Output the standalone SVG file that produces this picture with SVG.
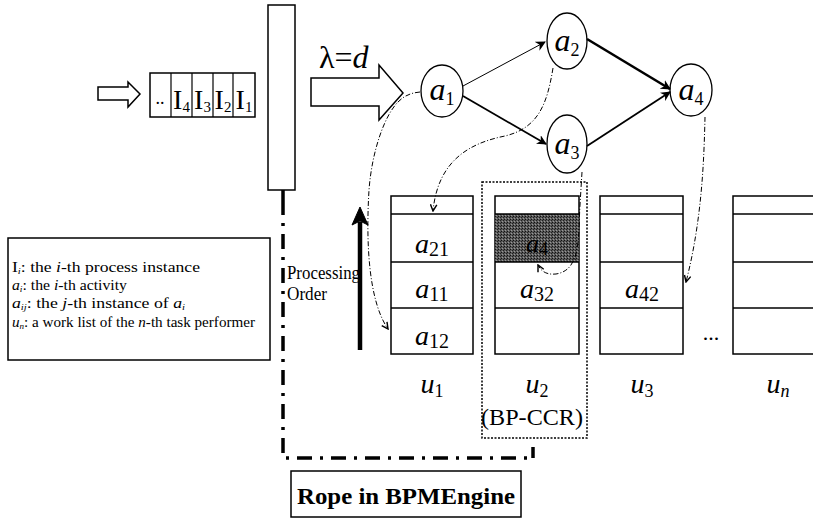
<svg xmlns="http://www.w3.org/2000/svg" width="813" height="520" viewBox="0 0 813 520" font-family="'Liberation Serif','DejaVu Serif','Times New Roman',serif">
<style>
text{font-family:"Liberation Serif","DejaVu Serif","Times New Roman",serif;fill:#000}
.it{font-style:italic}
.box{fill:#fff;stroke:#000;stroke-width:1.5}
.node{fill:#fff;stroke:#000;stroke-width:1.3}
.dd{fill:none;stroke:#000;stroke-width:1;stroke-dasharray:5 2 1 2}
</style>
<defs>
<marker id="ah" viewBox="0 0 10 10" refX="9" refY="5" markerWidth="10" markerHeight="10" markerUnits="userSpaceOnUse" orient="auto">
<path d="M0,0 L10,5 L0,10 L3,5 Z" fill="#000"/>
</marker>
<marker id="ahs" viewBox="0 0 10 10" refX="9" refY="5" markerWidth="8" markerHeight="8" markerUnits="userSpaceOnUse" orient="auto">
<path d="M1,1 L9,5 L1,9" fill="none" stroke="#000" stroke-width="1.8"/>
</marker>
<pattern id="shade" width="3" height="3" patternUnits="userSpaceOnUse">
<rect width="3" height="3" fill="#5a5a5a"/>
<rect width="1" height="1" fill="#111"/>
<rect x="2" y="1" width="1" height="1" fill="#222"/>
<rect x="1" y="2" width="1" height="1" fill="#999"/>
</pattern>
</defs>

<g id="input-arrow">
<path d="M98,87 L128,87 L128,82 L140,94 L128,107 L128,100 L98,100 Z" fill="#fff" stroke="#000" stroke-width="1.5"/>
</g>

<g id="queue">
<rect class="box" x="150" y="73" width="105" height="44"/>
<line x1="171" y1="73" x2="171" y2="117" stroke="#000" stroke-width="1.2"/>
<line x1="192" y1="73" x2="192" y2="117" stroke="#000" stroke-width="1.2"/>
<line x1="213" y1="73" x2="213" y2="117" stroke="#000" stroke-width="1.2"/>
<line x1="233" y1="73" x2="233" y2="117" stroke="#000" stroke-width="1.2"/>
<text x="160" y="104" font-size="18" text-anchor="middle">..</text>
<text x="181.5" y="109" font-size="28" text-anchor="middle">I<tspan font-size="15" dy="3">4</tspan></text>
<text x="202.5" y="109" font-size="28" text-anchor="middle">I<tspan font-size="15" dy="3">3</tspan></text>
<text x="223" y="109" font-size="28" text-anchor="middle">I<tspan font-size="15" dy="3">2</tspan></text>
<text x="244" y="109" font-size="28" text-anchor="middle">I<tspan font-size="15" dy="3">1</tspan></text>
</g>

<g id="gate">
<rect class="box" x="268" y="5" width="27" height="185"/>
</g>

<g id="rope-line">
<line x1="283" y1="190" x2="283" y2="200" stroke="#000" stroke-width="3.5"/>
<path d="M283,200 L283,458 L533,458" fill="none" stroke="#000" stroke-width="3.5" stroke-dasharray="15 8 3 8"/>
<line x1="533" y1="447" x2="533" y2="458" stroke="#000" stroke-width="3.5"/>
</g>

<g id="release-arrow">
<path d="M311,78 L379,78 L379,65 L403,93 L379,120 L379,106 L311,106 Z" fill="#fff" stroke="#000" stroke-width="1.5"/>
<text x="319" y="68" font-size="32">λ=<tspan class="it">d</tspan></text>
</g>

<g id="node-a1">
<ellipse class="node" cx="442" cy="91" rx="21" ry="26"/>
<text x="442" y="100" font-size="32" text-anchor="middle"><tspan class="it">a</tspan><tspan font-size="18" dy="5">1</tspan></text>
</g>
<g id="node-a2">
<ellipse class="node" cx="567" cy="41" rx="20" ry="28"/>
<text x="567" y="51" font-size="32" text-anchor="middle"><tspan class="it">a</tspan><tspan font-size="18" dy="5">2</tspan></text>
</g>
<g id="node-a3">
<ellipse class="node" cx="567" cy="144" rx="20" ry="29"/>
<text x="567" y="154" font-size="32" text-anchor="middle"><tspan class="it">a</tspan><tspan font-size="18" dy="5">3</tspan></text>
</g>
<g id="node-a4">
<ellipse class="node" cx="691" cy="90" rx="21" ry="26"/>
<text x="691" y="100" font-size="32" text-anchor="middle"><tspan class="it">a</tspan><tspan font-size="18" dy="5">4</tspan></text>
</g>

<g id="worklist-u1">
<rect class="box" x="391" y="196" width="82" height="158"/>
<line x1="391" y1="214" x2="473" y2="214" stroke="#000" stroke-width="1.5"/>
<line x1="391" y1="262" x2="473" y2="262" stroke="#000" stroke-width="1.5"/>
<line x1="391" y1="308" x2="473" y2="308" stroke="#000" stroke-width="1.5"/>
<text x="432" y="253" font-size="28" text-anchor="middle"><tspan class="it">a</tspan><tspan font-size="20" dy="3">21</tspan></text>
<text x="432" y="298" font-size="28" text-anchor="middle"><tspan class="it">a</tspan><tspan font-size="20" dy="3">11</tspan></text>
<text x="432" y="345" font-size="28" text-anchor="middle"><tspan class="it">a</tspan><tspan font-size="20" dy="3">12</tspan></text>
<text x="432" y="393" font-size="28" text-anchor="middle"><tspan class="it">u</tspan><tspan font-size="18" dy="4">1</tspan></text>
</g>

<g id="worklist-u2">
<rect class="box" x="495" y="196" width="84" height="158"/>
<rect x="495" y="214" width="84" height="48" fill="url(#shade)"/>
<line x1="495" y1="214" x2="579" y2="214" stroke="#000" stroke-width="1.5"/>
<line x1="495" y1="262" x2="579" y2="262" stroke="#000" stroke-width="1.5"/>
<line x1="495" y1="308" x2="579" y2="308" stroke="#000" stroke-width="1.5"/>
<text x="537" y="252" font-size="26" text-anchor="middle" style="fill:#000"><tspan class="it">a</tspan><tspan font-size="18" dy="3">4</tspan></text>
<text x="537" y="298" font-size="28" text-anchor="middle"><tspan class="it">a</tspan><tspan font-size="20" dy="3">32</tspan></text>
<text x="537" y="393" font-size="28" text-anchor="middle"><tspan class="it">u</tspan><tspan font-size="18" dy="4">2</tspan></text>
<text x="532" y="425" font-size="24" text-anchor="middle" textLength="102" lengthAdjust="spacingAndGlyphs">(BP-CCR)</text>
<rect x="482" y="182" width="105" height="256" fill="none" stroke="#000" stroke-width="1.5" stroke-dasharray="2 1.5"/>
</g>

<g id="worklist-u3">
<rect class="box" x="600" y="196" width="83" height="158"/>
<line x1="600" y1="214" x2="683" y2="214" stroke="#000" stroke-width="1.5"/>
<line x1="600" y1="262" x2="683" y2="262" stroke="#000" stroke-width="1.5"/>
<line x1="600" y1="308" x2="683" y2="308" stroke="#000" stroke-width="1.5"/>
<text x="642" y="298" font-size="28" text-anchor="middle"><tspan class="it">a</tspan><tspan font-size="20" dy="3">42</tspan></text>
<text x="642" y="393" font-size="28" text-anchor="middle"><tspan class="it">u</tspan><tspan font-size="18" dy="4">3</tspan></text>
</g>

<g id="ellipsis">
<text x="711" y="340" font-size="22" text-anchor="middle">...</text>
</g>

<g id="worklist-un">
<rect class="box" x="733" y="196" width="100" height="158"/>
<line x1="733" y1="214" x2="813" y2="214" stroke="#000" stroke-width="1.5"/>
<line x1="733" y1="262" x2="813" y2="262" stroke="#000" stroke-width="1.5"/>
<line x1="733" y1="308" x2="813" y2="308" stroke="#000" stroke-width="1.5"/>
<text x="778" y="393" font-size="28" text-anchor="middle"><tspan class="it">u</tspan><tspan class="it" font-size="18" dy="4">n</tspan></text>
</g>

<g id="processing-order">
<text x="287" y="279" font-size="18" textLength="73" lengthAdjust="spacingAndGlyphs">Processing</text>
<text x="287" y="300" font-size="18" textLength="40" lengthAdjust="spacingAndGlyphs">Order</text>
<line x1="360" y1="350" x2="360" y2="222" stroke="#000" stroke-width="4.5"/>
<path d="M352,225 L360,207 L368,225 L360,221 Z" fill="#000" stroke="#000" stroke-width="1"/>
</g>

<g id="legend">
<rect class="box" x="8" y="238" width="262" height="122"/>
<text x="12" y="272" font-size="15" textLength="188" lengthAdjust="spacingAndGlyphs">I<tspan class="it" font-size="9" dy="2">i</tspan><tspan dy="-2">: the </tspan><tspan class="it">i</tspan>-th process instance</text>
<text x="12" y="290" font-size="15" textLength="115" lengthAdjust="spacingAndGlyphs"><tspan class="it">a</tspan><tspan class="it" font-size="9" dy="2">i</tspan><tspan dy="-2">: the </tspan><tspan class="it">i</tspan>-th activity</text>
<text x="12" y="308" font-size="15" textLength="173" lengthAdjust="spacingAndGlyphs"><tspan class="it">a</tspan><tspan class="it" font-size="9" dy="2">ij</tspan><tspan dy="-2">: the </tspan><tspan class="it">j</tspan>-th instance of <tspan class="it">a</tspan><tspan class="it" font-size="9" dy="2">i</tspan></text>
<text x="12" y="327" font-size="15" textLength="243" lengthAdjust="spacingAndGlyphs"><tspan class="it">u</tspan><tspan class="it" font-size="9" dy="2">n</tspan><tspan dy="-2">: a work list of the </tspan><tspan class="it">n</tspan>-th task performer</text>
</g>

<g id="rope-label">
<rect class="box" x="291" y="471" width="230" height="46"/>
<text x="297" y="504" font-size="23" font-weight="bold" textLength="218" lengthAdjust="spacingAndGlyphs">Rope in BPMEngine</text>
</g>

<g id="connectors">
<line x1="463" y1="86" x2="545" y2="42" stroke="#000" stroke-width="1" marker-end="url(#ah)"/>
<line x1="463" y1="96" x2="546" y2="144" stroke="#000" stroke-width="1.8" marker-end="url(#ah)"/>
<line x1="587" y1="39" x2="670" y2="89" stroke="#000" stroke-width="2.6" marker-end="url(#ah)"/>
<line x1="587" y1="146" x2="670" y2="92" stroke="#000" stroke-width="1.8" marker-end="url(#ah)"/>
<path class="dd" d="M420,92 C410,93 404,96 398,102 C385,115 372,150 369,190 C366,240 368,300 388,329" marker-end="url(#ahs)"/>
<path class="dd" d="M553,68 C547,105 538,128 505,136 C470,143 438,160 433,211" marker-end="url(#ahs)"/>
<path class="dd" d="M705,117 C704,160 702,220 686,282" marker-end="url(#ahs)"/>
<path class="dd" d="M582,172 L580,205 C578,235 582,270 556,274 C546,275 541,271 538,265" marker-end="url(#ahs)"/>
</g>
</svg>
